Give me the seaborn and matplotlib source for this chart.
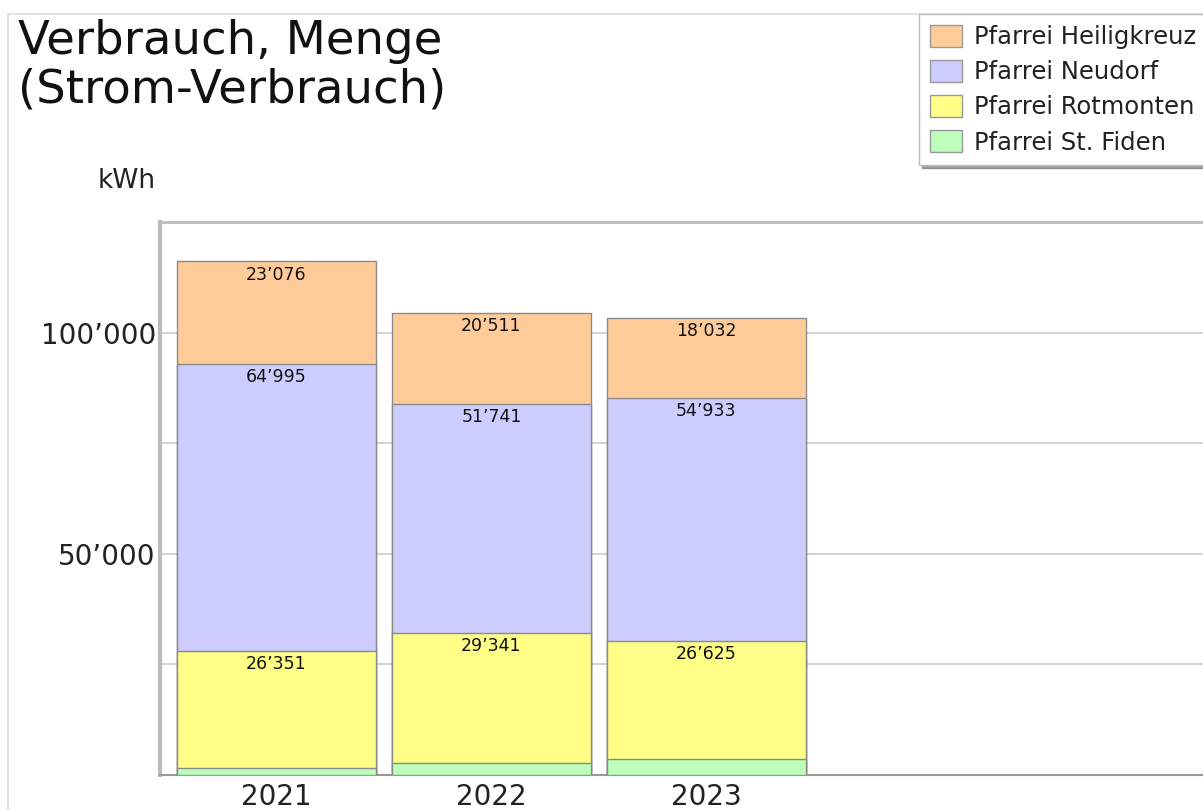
import matplotlib
matplotlib.use("Agg")
import matplotlib.pyplot as plt
import matplotlib.patches as mpatches
import seaborn as sns
import pandas as pd

years = ["2021", "2022", "2023"]
series = ["Pfarrei Heiligkreuz", "Pfarrei Neudorf", "Pfarrei Rotmonten", "Pfarrei St. Fiden"]
heiligkreuz = [23076, 20511, 18032]
neudorf = [64995, 51741, 54933]
rotmonten = [26351, 29341, 26625]
st_fiden = [1650, 2800, 3650]
colors = ["#FFCC99", "#CCCCFF", "#FFFF88", "#BBFFBB"]
yticks = [0, 25000, 50000, 75000, 100000, 125000]
ytick_labels = ["", "", "50’000", "", "100’000", ""]


def fmt(v):
    return f"{v:,}".replace(",", "’")


# stacked from bottom: St. Fiden, Rotmonten, Neudorf, Heiligkreuz
stack = [st_fiden, rotmonten, neudorf, heiligkreuz]
stack_colors = colors[::-1]

df = pd.DataFrame({"Jahr": years})
cum = [0, 0, 0]
tops = []
for vals in stack:
    cum = [c + v for c, v in zip(cum, vals)]
    tops.append(list(cum))

sns.set_style("white")
plt.rcParams["font.family"] = ["DejaVu Sans"]

fig = plt.figure(figsize=(12.03, 8.10), dpi=100)
W, H = 1203, 810
ax = fig.add_axes([160 / W, (H - 775) / H, (W - 160) / W, (775 - 222) / H])

# draw from the top layer down so lower segments overlay the upper ones
for i in range(len(stack) - 1, -1, -1):
    df["top"] = tops[i]
    sns.barplot(data=df, x="Jahr", y="top", color=stack_colors[i],
                width=0.925, saturation=1, edgecolor="#8a8a8a",
                linewidth=1.0, ax=ax, zorder=3)

# value labels near the top of each segment (not for St. Fiden)
for i in range(1, len(stack)):
    for j, v in enumerate(stack[i]):
        ax.annotate(fmt(v), xy=(j, tops[i][j]), xytext=(0, -3),
                    textcoords="offset points", ha="center", va="top",
                    fontsize=12.5, color="#111111", zorder=5)

ax.set_xlim(-0.542, 4.31)
ax.set_ylim(0, 125000)
ax.set_yticks(yticks)
ax.set_yticklabels(ytick_labels)
ax.tick_params(axis="y", length=0, pad=3, labelsize=20, labelcolor="#222222")
ax.tick_params(axis="x", length=0, pad=6, labelsize=20, labelcolor="#222222")
ax.set_xlabel("")
ax.set_ylabel("")
ax.yaxis.grid(True, color="#cccccc", linewidth=1.2, zorder=0)
ax.set_axisbelow(True)

ax.spines["right"].set_visible(False)
ax.spines["top"].set_color("#bbbbbb")
ax.spines["top"].set_linewidth(2)
ax.spines["left"].set_color("#bbbbbb")
ax.spines["left"].set_linewidth(3)
ax.spines["bottom"].set_color("#999999")
ax.spines["bottom"].set_linewidth(1.5)

# outer frame
fig.patches.append(mpatches.Rectangle((8 / W, -0.1), 1.2, 1 - 14 / H + 0.1,
                                      transform=fig.transFigure, fill=False,
                                      edgecolor="#e2e2e2", linewidth=1.5))

fig.text(18 / W, 1 - 19 / H, "Verbrauch, Menge\n(Strom-Verbrauch)",
         ha="left", va="top", fontsize=33.5, linespacing=1.1, color="#111111")
fig.text(156 / W, 1 - 181 / H, "kWh", ha="right", va="center",
         fontsize=19, color="#222222")

handles = [mpatches.Patch(facecolor=c, edgecolor="#999999", label=l)
           for c, l in zip(colors, series)]
leg = fig.legend(handles=handles, loc="upper left",
                 bbox_to_anchor=(919 / W, 1 - 14 / H), borderaxespad=0,
                 fontsize=17.5, frameon=True, fancybox=False, shadow=True,
                 edgecolor="#bbbbbb", handlelength=1.3, handleheight=1.0,
                 handletextpad=0.5, labelspacing=0.45, borderpad=0.45)
leg.get_frame().set_linewidth(1)
for t in leg.get_texts():
    t.set_color("#222222")

fig.savefig("out.png", dpi=100, facecolor="white")
